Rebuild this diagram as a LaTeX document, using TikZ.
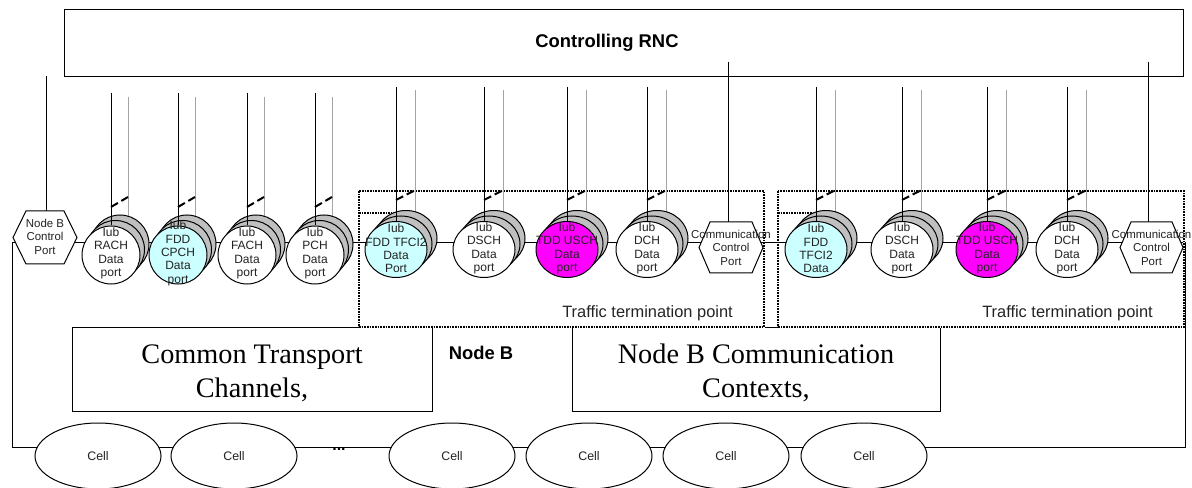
\documentclass[tikz,border=0pt]{standalone}
\usepackage{fontspec}
\setmainfont{Liberation Serif}
\setsansfont{Liberation Sans}
\usetikzlibrary{shapes.geometric}

\definecolor{portgray}{RGB}{192,192,192}
\definecolor{linkgray}{RGB}{165,165,165}
\definecolor{portcyan}{RGB}{204,255,255}
\definecolor{portmagenta}{RGB}{255,0,255}
\definecolor{inkgray}{RGB}{35,35,35}

\tikzset{
  wire/.style={line width=0.75pt, draw=black},
  linkline/.style={line width=0.75pt, draw=linkgray},
  slashes/.style={line width=1.5pt, draw=black, dash pattern=on 6pt off 3pt},
  ttpline/.style={line width=1.6pt, draw=black, dash pattern=on 1.2pt off 0.8pt,
    preaction={draw=white, line width=1.6pt, solid}},
  backport/.style={ellipse, draw=black, line width=0.75pt, fill=portgray, inner sep=0pt},
  frontport/.style={ellipse, draw=black, line width=0.75pt, inner sep=0pt},
  commonport/.style={minimum width=43.5pt, minimum height=43.5pt},
  dedport/.style={minimum width=46.5pt, minimum height=42pt},
  portlabel/.style={align=center, inner sep=0pt, text=inkgray,
    font=\fontsize{9}{10}\selectfont\sffamily},
  hexlabel/.style={align=center, inner sep=0pt, text=inkgray,
    font=\fontsize{8.6}{10.1}\selectfont\sffamily},
  boxnode/.style={draw=black, line width=0.75pt, fill=white, inner sep=0pt, anchor=north west},
  bigserif/.style={align=center, inner sep=0pt, font=\fontsize{21.2}{25.5}\selectfont\rmfamily},
  boldsans/.style={inner sep=0pt, font=\fontsize{13.8}{16}\selectfont\sffamily\bfseries},
  ttptext/.style={inner sep=0pt, text=inkgray, font=\fontsize{12.3}{14}\selectfont\sffamily},
  cell/.style={ellipse, draw=black, line width=0.75pt, fill=white, inner sep=0pt,
    minimum width=94.5pt, minimum height=49.5pt, text=inkgray,
    font=\fontsize{9.3}{11}\selectfont\sffamily},
}

\begin{document}
\begin{tikzpicture}[x=0.75pt, y=-0.75pt]
\useasboundingbox (0,0) rectangle (1192,488);

% Controlling RNC
\node[boxnode, minimum width=838.9pt, minimum height=50.25pt] (rnc) at (64,9.3) {};
\node[boldsans] (rnctext) at (607,43) {Controlling RNC};

% Node B functional boxes
\node[boxnode, minimum width=270pt, minimum height=63pt] (ctc) at (72,327) {};
\node[bigserif] (ctctext) at (252,373) {Common Transport\\Channels,};
\node[boxnode, minimum width=276pt, minimum height=63pt] (ncc) at (572,327) {};
\node[bigserif] (ncctext) at (756,373) {Node B Communication\\Contexts,};
\node[boldsans] (nodeb) at (481,353) {Node B};

% Node B outline running through the ports
\coordinate (spL) at (12,242.5);
\coordinate (spR) at (1185,242.5);
\coordinate (spBL) at (12,447);
\coordinate (spBR) at (1185,447);
\draw[wire] (spL) -- (spR);
\draw[wire] (spL) -- (spBL) -- (spBR) -- (spR);

% Traffic termination points
\coordinate (ta1) at (359,191);
\coordinate (tb1) at (764,327);
\coordinate (ta2) at (778,191);
\coordinate (tb2) at (1184,327);
\draw[ttpline] (ta1) rectangle (tb1);
\draw[ttpline] (ta2) rectangle (tb2);
\coordinate (ti1a) at (359,213);
\coordinate (ti1b) at (392,213);
\coordinate (ti2a) at (778,213);
\coordinate (ti2b) at (812,213);
\draw[ttpline] (ti1a) -- (ti1b);
\draw[ttpline] (ti2a) -- (ti2b);

% Cells
\node[cell] (c1) at (98,456) {Cell};
\node[cell] (c2) at (234,456) {Cell};
\node[inner sep=0pt, font=\fontsize{12}{14}\selectfont\sffamily\bfseries] (dots) at (339,449) {...};
\node[cell] (c3) at (452,456) {Cell};
\node[cell] (c4) at (589,456) {Cell};
\node[cell] (c5) at (726,456) {Cell};
\node[cell] (c6) at (864,456) {Cell};

% Control ports and their links to the RNC
\coordinate (rlB) at (46,76.3);
\coordinate (hBtop) at (46,211);
\coordinate (rl1) at (728,62);
\coordinate (h1top) at (728,222);
\coordinate (rl2) at (1148,62);
\coordinate (h2top) at (1148,222);
\draw[wire] (rlB) -- (hBtop);
\draw[wire] (rl1) -- (h1top);
\draw[wire] (rl2) -- (h2top);

\draw[wire, fill=white] (13,237.5) -- (26,211) -- (64,211) -- (77,237.5) -- (64,264) -- (26,264) -- cycle;
\node[hexlabel] (hB) at (45,236.5) {Node B\\Control\\Port};
\draw[wire, fill=white] (699,247.5) -- (710,222) -- (752,222) -- (763,247.5) -- (752,273) -- (710,273) -- cycle;
\node[hexlabel] (h1) at (731,247.5) {Communication\\Control\\Port};
\draw[wire, fill=white] (1120,247.5) -- (1131,222) -- (1172,222) -- (1183,247.5) -- (1172,273) -- (1131,273) -- cycle;
\node[hexlabel] (h2) at (1151.5,247.5) {Communication\\Control\\Port};

% Common transport channel data ports
\foreach \n/\x/\f/\lbl in {
  1/111/white/{Iub\\RACH\\Data\\port},
  2/178/portcyan/{Iub\\FDD\\CPCH\\Data\\port},
  3/247/white/{Iub\\FACH\\Data\\port},
  4/315/white/{Iub\\PCH\\Data\\port}}
{
  \coordinate (gt-\n) at ({\x+17},97);
  \coordinate (gb-\n) at ({\x+17},244);
  \draw[linkline] (gt-\n) -- (gb-\n);
  \node[backport, commonport] (b2-\n) at ({\x+9},244) {};
  \node[backport, commonport] (b1-\n) at ({\x+4.5},249.5) {};
  \node[frontport, commonport, fill=\f] (f-\n) at (\x,255) {};
  \coordinate (bt-\n) at (\x,93);
  \draw[wire] (bt-\n) -- (f-\n);
  \coordinate (sa-\n) at (\x,207);
  \coordinate (sb-\n) at ({\x+17},197);
  \draw[slashes] (sa-\n) -- (sb-\n);
  \node[portlabel] (t-\n) at (\x,253.5) {\lbl};
}

% Dedicated and shared channel data ports
\foreach \n/\x/\f/\lbl in {
  5/396/portcyan/{Iub\\FDD TFCI2\\Data\\Port},
  6/484/white/{Iub\\DSCH\\Data\\port},
  7/567/portmagenta/{Iub\\TDD USCH\\Data\\port},
  8/647/white/{Iub\\DCH\\Data\\port},
  9/816/portcyan/{Iub\\FDD\\TFCI2\\Data},
  10/902/white/{Iub\\DSCH\\Data\\port},
  11/987/portmagenta/{Iub\\TDD USCH\\Data\\port},
  12/1067/white/{Iub\\DCH\\Data\\port}}
{
  \coordinate (gt-\n) at ({\x+19.5},90);
  \coordinate (gb-\n) at ({\x+19.5},238);
  \draw[linkline] (gt-\n) -- (gb-\n);
  \node[backport, dedport] (b2-\n) at ({\x+10},238.5) {};
  \node[backport, dedport] (b1-\n) at ({\x+5},244) {};
  \node[frontport, dedport, fill=\f] (f-\n) at (\x,249.5) {};
  \coordinate (bt-\n) at (\x,87);
  \draw[wire] (bt-\n) -- (f-\n);
  \coordinate (sa-\n) at (\x,200);
  \coordinate (sb-\n) at ({\x+19.5},190);
  \draw[slashes] (sa-\n) -- (sb-\n);
  \node[portlabel] (t-\n) at (\x,248.5) {\lbl};
}

\node[ttptext] (tt1) at (647.5,313) {Traffic termination point};
\node[ttptext] (tt2) at (1067.5,313) {Traffic termination point};
\end{tikzpicture}
\end{document}
